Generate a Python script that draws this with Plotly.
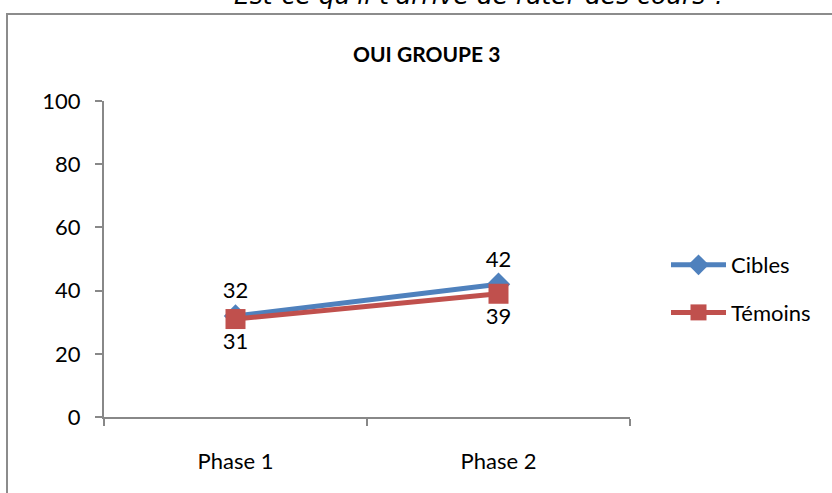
import plotly.graph_objects as go

categories = ["Phase 1", "Phase 2"]
cibles = [32, 42]
temoins = [31, 39]
y_ticks = [0, 20, 40, 60, 80, 100]

W, H = 832, 493
L, R, T, B = 104, 202, 101, 76
pw, ph = W - L - R, H - T - B

def px_x(px):
    return (px - L) / pw

def px_y(py):
    return (H - B - py) / ph

FS = 22

fig = go.Figure()
fig.add_trace(go.Scatter(
    x=categories, y=cibles, name="Cibles", mode="lines+markers+text",
    legendgroup="c",
    text=[str(v) for v in cibles], textposition="top center",
    textfont=dict(size=FS, color="#000000"),
    line=dict(color="#4F81BD", width=5),
    marker=dict(symbol="diamond", size=18, color="#4F81BD"),
))
fig.add_trace(go.Scatter(
    x=categories, y=temoins, name="Témoins", mode="lines+markers+text",
    legendgroup="t",
    text=[str(v) for v in temoins], textposition="bottom center",
    textfont=dict(size=FS, color="#000000"),
    line=dict(color="#C0504D", width=5),
    marker=dict(symbol="square", size=20, color="#C0504D"),
))

fig.update_layout(
    width=W, height=H,
    margin=dict(l=L, r=R, t=T, b=B),
    paper_bgcolor="white", plot_bgcolor="white",
    font=dict(family="Lato, Open Sans, sans-serif", size=FS, color="#000000"),
    showlegend=True,
    legend=dict(x=px_x(666), y=px_y(244), xanchor="left", yanchor="top",
                font=dict(size=FS), tracegroupgap=16, itemwidth=55,
                bgcolor="rgba(0,0,0,0)"),
    xaxis=dict(
        type="category", range=[-0.5, 1.5], showgrid=False,
        showline=True, linecolor="#888888", linewidth=2,
        ticks="outside", ticklen=7, tickcolor="#888888", tickwidth=2,
        tickson="boundaries", tickfont=dict(size=FS), zeroline=False,
        ticklabelstandoff=24,
    ),
    yaxis=dict(
        range=[0, 100], tickvals=y_ticks, showgrid=False,
        showline=True, linecolor="#888888", linewidth=2,
        ticks="outside", ticklen=7, tickcolor="#888888", tickwidth=2,
        tickfont=dict(size=FS), zeroline=False, ticklabelstandoff=10,
    ),
    shapes=[
        dict(type="rect", xref="paper", yref="paper",
             x0=px_x(7), x1=px_x(845), y0=px_y(510), y1=px_y(14),
             line=dict(color="#8c8c8c", width=2), fillcolor="rgba(0,0,0,0)",
             layer="below"),
    ],
    annotations=[
        dict(text="<b>OUI GROUPE 3</b>", xref="paper", yref="paper",
             x=px_x(426), y=px_y(53), xanchor="center", yanchor="middle",
             showarrow=False, font=dict(size=21, color="#000000")),
        dict(text="<i>Est-ce qu'il t'arrive de rater des cours ?</i>", xref="paper", yref="paper",
             x=px_x(480), y=px_y(-5), xanchor="center", yanchor="middle",
             showarrow=False, font=dict(size=25, color="#000000", family="DejaVu Sans")),
    ],
)

fig.write_html("out.html", config={"displayModeBar": False},
               post_script="document.body.style.margin='0';document.body.style.padding='0';")
